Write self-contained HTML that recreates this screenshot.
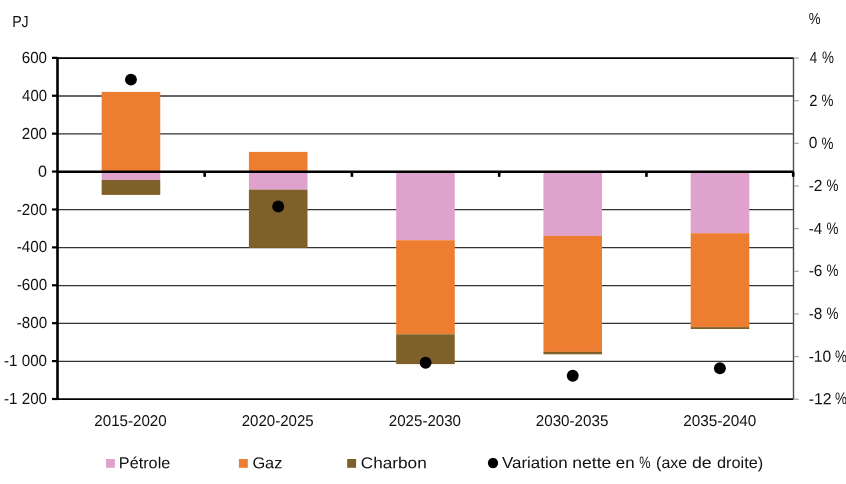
<!DOCTYPE html>
<html lang="fr"><head><meta charset="utf-8"><title>Variation nette de la demande</title>
<style>
html,body{margin:0;padding:0;background:#fff;}
body{width:846px;height:484px;overflow:hidden;}
svg{display:block;}
text{text-rendering:geometricPrecision;font-family:"Liberation Sans",sans-serif;font-size:16px;fill:#111;}
</style></head><body>
<svg width="846" height="484" viewBox="0 0 846 484">
<rect width="846" height="484" fill="#fff"/>
<g stroke="#333" stroke-width="1.3">
<line x1="57.5" x2="793.5" y1="361.34" y2="361.34"/>
<line x1="57.5" x2="793.5" y1="323.44" y2="323.44"/>
<line x1="57.5" x2="793.5" y1="285.53" y2="285.53"/>
<line x1="57.5" x2="793.5" y1="247.63" y2="247.63"/>
<line x1="57.5" x2="793.5" y1="209.72" y2="209.72"/>
<line x1="57.5" x2="793.5" y1="133.91" y2="133.91"/>
<line x1="57.5" x2="793.5" y1="96.01" y2="96.01"/>
</g>
<rect x="101.65" y="91.90" width="58.6" height="79.90" fill="#ed7d31"/>
<rect x="101.65" y="171.80" width="58.6" height="8.20" fill="#dea2cd"/>
<rect x="101.65" y="180.00" width="58.6" height="14.90" fill="#7f6029"/>
<rect x="248.91" y="151.90" width="58.6" height="19.90" fill="#ed7d31"/>
<rect x="248.91" y="171.80" width="58.6" height="17.80" fill="#dea2cd"/>
<rect x="248.91" y="189.60" width="58.6" height="58.30" fill="#7f6029"/>
<rect x="396.17" y="171.80" width="58.6" height="68.40" fill="#dea2cd"/>
<rect x="396.17" y="240.20" width="58.6" height="94.10" fill="#ed7d31"/>
<rect x="396.17" y="334.30" width="58.6" height="29.80" fill="#7f6029"/>
<rect x="543.43" y="171.80" width="58.6" height="64.10" fill="#dea2cd"/>
<rect x="543.43" y="235.90" width="58.6" height="116.00" fill="#ed7d31"/>
<rect x="543.43" y="351.90" width="58.6" height="2.40" fill="#7f6029"/>
<rect x="690.69" y="171.80" width="58.6" height="61.40" fill="#dea2cd"/>
<rect x="690.69" y="233.20" width="58.6" height="93.90" fill="#ed7d31"/>
<rect x="690.69" y="327.10" width="58.6" height="1.90" fill="#7f6029"/>
<line x1="57.5" x2="793.5" y1="58.15" y2="58.15" stroke="#000" stroke-width="1.7"/>
<line x1="57.5" x2="793.5" y1="399.1" y2="399.1" stroke="#000" stroke-width="1.8"/>
<line x1="793.5" x2="793.5" y1="57.85" y2="399.0" stroke="#4d4d4d" stroke-width="1.4"/>
<g stroke="#a0a0a0" stroke-width="1.2">
<line x1="794.1" x2="798.8" y1="399.20" y2="399.20"/>
<line x1="794.1" x2="798.8" y1="356.56" y2="356.56"/>
<line x1="794.1" x2="798.8" y1="313.91" y2="313.91"/>
<line x1="794.1" x2="798.8" y1="271.27" y2="271.27"/>
<line x1="794.1" x2="798.8" y1="228.62" y2="228.62"/>
<line x1="794.1" x2="798.8" y1="185.98" y2="185.98"/>
<line x1="794.1" x2="798.8" y1="143.34" y2="143.34"/>
<line x1="794.1" x2="798.8" y1="100.69" y2="100.69"/>
<line x1="794.1" x2="798.8" y1="58.05" y2="58.05"/>
</g>
<line x1="57.5" x2="57.5" y1="57.300000000000004" y2="400.0" stroke="#000" stroke-width="2.6"/>
<g stroke="#000" stroke-width="2.2">
<line x1="52.0" x2="57.5" y1="399.00" y2="399.00"/>
<line x1="52.0" x2="57.5" y1="361.09" y2="361.09"/>
<line x1="52.0" x2="57.5" y1="323.19" y2="323.19"/>
<line x1="52.0" x2="57.5" y1="285.28" y2="285.28"/>
<line x1="52.0" x2="57.5" y1="247.38" y2="247.38"/>
<line x1="52.0" x2="57.5" y1="209.47" y2="209.47"/>
<line x1="52.0" x2="57.5" y1="171.57" y2="171.57"/>
<line x1="52.0" x2="57.5" y1="133.66" y2="133.66"/>
<line x1="52.0" x2="57.5" y1="95.76" y2="95.76"/>
<line x1="52.0" x2="57.5" y1="57.85" y2="57.85"/>
</g>
<line x1="57.5" x2="793.5" y1="171.75" y2="171.75" stroke="#000" stroke-width="2.6"/>
<g stroke="#000" stroke-width="2.6">
<line x1="204.66" x2="204.66" y1="171.75" y2="176.85"/>
<line x1="351.92" x2="351.92" y1="171.75" y2="176.85"/>
<line x1="499.18" x2="499.18" y1="171.75" y2="176.85"/>
<line x1="646.44" x2="646.44" y1="171.75" y2="176.85"/>
<line x1="793.20" x2="793.20" y1="171.75" y2="176.85"/>
</g>
<circle cx="130.95" cy="79.6" r="5.95" fill="#000"/>
<circle cx="278.2" cy="206.5" r="5.95" fill="#000"/>
<circle cx="425.6" cy="362.8" r="5.95" fill="#000"/>
<circle cx="572.75" cy="375.7" r="5.95" fill="#000"/>
<circle cx="719.9" cy="368.3" r="5.95" fill="#000"/>
<rect x="106.0" y="459.0" width="8.9" height="8.8" fill="#dea2cd"/>
<rect x="238.9" y="459.0" width="8.9" height="8.8" fill="#ed7d31"/>
<rect x="347.2" y="459.0" width="8.9" height="8.8" fill="#7f6029"/>
<circle cx="493.0" cy="463.0" r="5.15" fill="#000"/>
<text transform="matrix(1 0.0005 0 1.0 21.72 62.95)"><tspan x="0" textLength="25.28" lengthAdjust="spacingAndGlyphs">600</tspan></text>
<text transform="matrix(1 0.0005 0 1.0 22.10 100.86)"><tspan x="0" textLength="24.89" lengthAdjust="spacingAndGlyphs">400</tspan></text>
<text transform="matrix(1 0.0005 0 1.0 21.74 138.76)"><tspan x="0" textLength="25.26" lengthAdjust="spacingAndGlyphs">200</tspan></text>
<text transform="matrix(1 0.0005 0 1.0 38.12 176.67)"><tspan x="0" textLength="8.99" lengthAdjust="spacingAndGlyphs">0</tspan></text>
<text transform="matrix(1 0.0005 0 1.0 16.74 214.57)"><tspan x="0" textLength="30.33" lengthAdjust="spacingAndGlyphs">-200</tspan></text>
<text transform="matrix(1 0.0005 0 1.0 16.74 252.48)"><tspan x="0" textLength="30.33" lengthAdjust="spacingAndGlyphs">-400</tspan></text>
<text transform="matrix(1 0.0005 0 1.0 16.74 290.38)"><tspan x="0" textLength="30.33" lengthAdjust="spacingAndGlyphs">-600</tspan></text>
<text transform="matrix(1 0.0005 0 1.0 16.74 328.29)"><tspan x="0" textLength="30.33" lengthAdjust="spacingAndGlyphs">-800</tspan></text>
<text transform="matrix(1 0.0005 0 1.0 4.04 366.19)"><tspan x="0" textLength="43.00" lengthAdjust="spacingAndGlyphs">-1 000</tspan></text>
<text transform="matrix(1 0.0005 0 1.0 4.04 404.10)"><tspan x="0" textLength="43.00" lengthAdjust="spacingAndGlyphs">-1 200</tspan></text>
<text transform="matrix(1 0.0005 0 1.0 809.64 63.15)"><tspan x="0" textLength="7.40" lengthAdjust="spacingAndGlyphs">4</tspan> <tspan x="12.24" textLength="11.93" lengthAdjust="spacingAndGlyphs" font-size="16.64" dy="0.05">%</tspan></text>
<text transform="matrix(1 0.0005 0 1.0 809.31 105.79)"><tspan x="0" textLength="8.21" lengthAdjust="spacingAndGlyphs">2</tspan> <tspan x="12.32" textLength="11.93" lengthAdjust="spacingAndGlyphs" font-size="16.64" dy="0.05">%</tspan></text>
<text transform="matrix(1 0.0005 0 1.0 808.79 148.44)"><tspan x="0" textLength="8.64" lengthAdjust="spacingAndGlyphs">0</tspan> <tspan x="12.84" textLength="11.93" lengthAdjust="spacingAndGlyphs" font-size="16.64" dy="0.05">%</tspan></text>
<text transform="matrix(1 0.0005 0 1.0 808.67 191.08)"><tspan x="0" textLength="13.81" lengthAdjust="spacingAndGlyphs">-2</tspan> <tspan x="17.86" textLength="11.93" lengthAdjust="spacingAndGlyphs" font-size="16.64" dy="0.05">%</tspan></text>
<text transform="matrix(1 0.0005 0 1.0 808.69 233.72)"><tspan x="0" textLength="13.41" lengthAdjust="spacingAndGlyphs">-4</tspan> <tspan x="17.84" textLength="11.93" lengthAdjust="spacingAndGlyphs" font-size="16.64" dy="0.05">%</tspan></text>
<text transform="matrix(1 0.0005 0 1.0 808.68 276.37)"><tspan x="0" textLength="13.68" lengthAdjust="spacingAndGlyphs">-6</tspan> <tspan x="17.85" textLength="11.93" lengthAdjust="spacingAndGlyphs" font-size="16.64" dy="0.05">%</tspan></text>
<text transform="matrix(1 0.0005 0 1.0 808.68 319.01)"><tspan x="0" textLength="13.68" lengthAdjust="spacingAndGlyphs">-8</tspan> <tspan x="17.85" textLength="11.93" lengthAdjust="spacingAndGlyphs" font-size="16.64" dy="0.05">%</tspan></text>
<text transform="matrix(1 0.0005 0 1.0 808.67 361.66)"><tspan x="0" textLength="22.59" lengthAdjust="spacingAndGlyphs">-10</tspan> <tspan x="26.36" textLength="11.93" lengthAdjust="spacingAndGlyphs" font-size="16.64" dy="0.05">%</tspan></text>
<text transform="matrix(1 0.0005 0 1.0 808.66 404.30)"><tspan x="0" textLength="22.86" lengthAdjust="spacingAndGlyphs">-12</tspan> <tspan x="26.37" textLength="11.93" lengthAdjust="spacingAndGlyphs" font-size="16.64" dy="0.05">%</tspan></text>
<text transform="matrix(1 0.0005 0 0.975 94.34 425.85)"><tspan x="0" textLength="72.31" lengthAdjust="spacingAndGlyphs">2015-2020</tspan></text>
<text transform="matrix(1 0.0005 0 0.975 241.64 425.85)"><tspan x="0" textLength="72.11" lengthAdjust="spacingAndGlyphs">2020-2025</tspan></text>
<text transform="matrix(1 0.0005 0 0.975 388.84 425.85)"><tspan x="0" textLength="72.11" lengthAdjust="spacingAndGlyphs">2025-2030</tspan></text>
<text transform="matrix(1 0.0005 0 0.975 535.74 425.85)"><tspan x="0" textLength="72.62" lengthAdjust="spacingAndGlyphs">2030-2035</tspan></text>
<text transform="matrix(1 0.0005 0 0.975 683.13 425.85)"><tspan x="0" textLength="73.23" lengthAdjust="spacingAndGlyphs">2035-2040</tspan></text>
<text transform="matrix(1 0.0005 0 1.0 12.13 27.10)"><tspan x="0" textLength="16.56" lengthAdjust="spacingAndGlyphs">PJ</tspan></text>
<text transform="matrix(1 0.0005 0 1.0 808.63 23.90)"><tspan x="0" textLength="11.83" lengthAdjust="spacingAndGlyphs">%</tspan></text>
<text transform="matrix(1 0.0005 0 0.99 118.86 468.30)"><tspan x="0" textLength="51.41" lengthAdjust="spacingAndGlyphs">Pétrole</tspan></text>
<text transform="matrix(1 0.0005 0 0.99 252.38 468.30)"><tspan x="0" textLength="30.03" lengthAdjust="spacingAndGlyphs">Gaz</tspan></text>
<text transform="matrix(1 0.0005 0 0.99 360.71 468.30)"><tspan x="0" textLength="66.02" lengthAdjust="spacingAndGlyphs">Charbon</tspan></text>
<text transform="matrix(1 0.0005 0 0.99 501.92 468.00)"><tspan x="0" textLength="65.69" lengthAdjust="spacingAndGlyphs">Variation</tspan> <tspan x="70.24" textLength="39.18" lengthAdjust="spacingAndGlyphs">nette</tspan> <tspan x="113.92" textLength="18.82" lengthAdjust="spacingAndGlyphs">en</tspan> <tspan x="137.24" textLength="11.22" lengthAdjust="spacingAndGlyphs" font-size="16.64" dy="0.3">%</tspan> <tspan x="154.18" textLength="31.20" lengthAdjust="spacingAndGlyphs" dy="-0.3">(axe</tspan> <tspan x="189.98" textLength="19.79" lengthAdjust="spacingAndGlyphs">de</tspan> <tspan x="215.09" textLength="46.29" lengthAdjust="spacingAndGlyphs">droite)</tspan></text>
</svg></body></html>
